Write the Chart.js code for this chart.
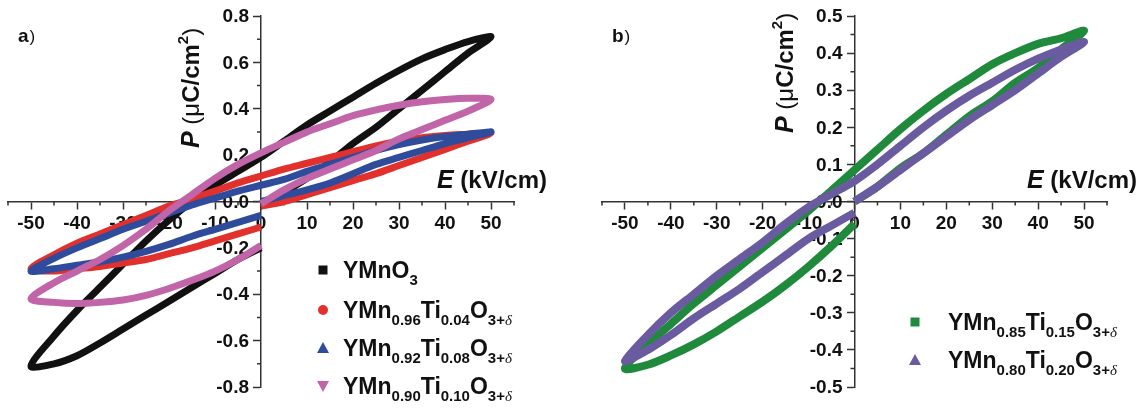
<!DOCTYPE html>
<html>
<head>
<meta charset="utf-8">
<script src="https://cdn.jsdelivr.net/npm/chart.js@4.4.1/dist/chart.umd.min.js"></script>
<style>
  html, body { margin: 0; padding: 0; background: #fff; }
  #wrap { position: relative; width: 1144px; height: 410px; overflow: hidden; }
  .panel { position: absolute; top: 0; height: 410px; }
  #pa { left: 0; width: 560px; }
  #pb { left: 572px; width: 572px; }
</style>
</head>
<body>
<div id="wrap">
  <div class="panel" id="pa"><canvas id="chartA" width="560" height="410"></canvas></div>
  <div class="panel" id="pb"><canvas id="chartB" width="572" height="410"></canvas></div>
</div>
<script>
const FONT = "'Liberation Sans', Arial, Helvetica, sans-serif";
const SERIF = "'Liberation Serif', 'DejaVu Serif', serif";
const AXIS_COLOR = '#333';

// field sweep: 0 -> +50 -> -50 -> 0 (kV/cm)
const E_PATH = [0, 5, 10, 15, 20, 25, 30, 35, 40, 45, 50,
  45, 40, 35, 30, 25, 20, 15, 10, 5, 0, -5, -10, -15, -20, -25, -30, -35, -40, -45, -50,
  -45, -40, -35, -30, -25, -20, -15, -10, -5, 0];

// panel a, P in uC/cm2 along E_PATH
const P_YMNO3 = [-0.01, 0.04, 0.10, 0.17, 0.25, 0.32, 0.40, 0.48, 0.56, 0.64, 0.71,
  0.69, 0.655, 0.615, 0.565, 0.51, 0.45, 0.39, 0.33, 0.26, 0.19, 0.13, 0.07, 0.0, -0.08, -0.17, -0.27, -0.37, -0.47, -0.58, -0.71,
  -0.70, -0.665, -0.61, -0.55, -0.49, -0.43, -0.37, -0.31, -0.25, -0.20];
const P_TI004 = [-0.02, 0.0, 0.03, 0.06, 0.09, 0.12, 0.155, 0.19, 0.225, 0.26, 0.295,
  0.29, 0.285, 0.275, 0.26, 0.24, 0.215, 0.19, 0.165, 0.14, 0.11, 0.08, 0.045, 0.01, -0.02, -0.06, -0.10, -0.14, -0.18, -0.23, -0.29,
  -0.30, -0.29, -0.28, -0.265, -0.25, -0.225, -0.20, -0.17, -0.14, -0.11];
const P_TI008 = [0.0, 0.025, 0.05, 0.08, 0.12, 0.16, 0.19, 0.22, 0.25, 0.275, 0.30,
  0.29, 0.28, 0.265, 0.245, 0.22, 0.19, 0.16, 0.13, 0.095, 0.07, 0.045, 0.015, -0.015, -0.05, -0.085, -0.12, -0.16, -0.20, -0.245, -0.30,
  -0.29, -0.275, -0.26, -0.24, -0.215, -0.185, -0.15, -0.12, -0.09, -0.06];
const P_TI010 = [-0.01, 0.05, 0.10, 0.14, 0.18, 0.22, 0.27, 0.31, 0.35, 0.39, 0.44,
  0.445, 0.44, 0.43, 0.415, 0.395, 0.37, 0.335, 0.30, 0.255, 0.21, 0.16, 0.10, 0.03, -0.04, -0.12, -0.19, -0.25, -0.30, -0.35, -0.42,
  -0.435, -0.44, -0.435, -0.425, -0.405, -0.375, -0.34, -0.30, -0.25, -0.19];

// panel b
const P_TI015 = [0.0, 0.04, 0.09, 0.13, 0.18, 0.23, 0.27, 0.32, 0.36, 0.41, 0.46,
  0.44, 0.425, 0.40, 0.37, 0.33, 0.29, 0.245, 0.195, 0.14, 0.085, 0.03, -0.025, -0.075, -0.125, -0.175, -0.225, -0.275, -0.33, -0.385, -0.45,
  -0.44, -0.415, -0.385, -0.35, -0.31, -0.27, -0.225, -0.175, -0.12, -0.06];
const P_TI020 = [0.0, 0.04, 0.085, 0.13, 0.175, 0.22, 0.26, 0.30, 0.345, 0.39, 0.43,
  0.41, 0.385, 0.355, 0.32, 0.285, 0.245, 0.20, 0.15, 0.10, 0.055, 0.02, -0.015, -0.06, -0.11, -0.155, -0.20, -0.25, -0.30, -0.36, -0.43,
  -0.40, -0.36, -0.315, -0.275, -0.235, -0.19, -0.145, -0.10, -0.065, -0.03];

const E_MAJOR = [-50, -40, -30, -20, -10, 0, 10, 20, 30, 40, 50];
const P_MAJOR_A = [-0.8, -0.6, -0.4, -0.2, 0, 0.2, 0.4, 0.6, 0.8];
const P_MAJOR_B = [-0.5, -0.4, -0.3, -0.2, -0.1, 0, 0.1, 0.2, 0.3, 0.4, 0.5];

const NAMES_A = ['YMnO_{3}', 'YMn_{0.96}Ti_{0.04}O_{3+δ}', 'YMn_{0.92}Ti_{0.08}O_{3+δ}', 'YMn_{0.90}Ti_{0.10}O_{3+δ}'];
const NAMES_B = ['YMn_{0.85}Ti_{0.15}O_{3+δ}', 'YMn_{0.80}Ti_{0.20}O_{3+δ}'];

const isIn = (list, v) => list.some(m => Math.abs(m - v) < 1e-6);
const pts = (P) => E_PATH.map((e, i) => ({ x: e, y: P[i] }));

// rich text: "_{..}" subscript, "^{..}" superscript
function drawRich(ctx, str, x, y, size) {
  const small = Math.round(size * 0.66);
  const re = /([_^])\{([^}]*)\}/g;
  const parts = [];
  let last = 0, m;
  while ((m = re.exec(str))) {
    if (m.index > last) parts.push({ t: str.slice(last, m.index), size, dy: 0 });
    const dy = m[1] === '_' ? Math.round(size * 0.3) : -Math.round(size * 0.45);
    m[2].split(/(δ)/).filter(Boolean).forEach(t => parts.push({ t, size: small, dy, greek: t === 'δ' }));
    last = re.lastIndex;
  }
  if (last < str.length) parts.push({ t: str.slice(last), size, dy: 0 });
  let cx = x;
  parts.forEach(p => {
    ctx.font = p.greek ? `italic ${p.size}px ${SERIF}` : `bold ${p.size}px ${FONT}`;
    ctx.fillText(p.t, cx, y + p.dy);
    cx += ctx.measureText(p.t).width;
  });
  return cx - x;
}

function drawMarker(ctx, shape, x, y, color) {
  ctx.fillStyle = color;
  ctx.beginPath();
  if (shape === 'rect') ctx.rect(x - 4.5, y - 4.5, 9, 9);
  else if (shape === 'circle') ctx.arc(x, y, 5, 0, Math.PI * 2);
  else if (shape === 'triangle') { ctx.moveTo(x, y - 6); ctx.lineTo(x + 6, y + 5); ctx.lineTo(x - 6, y + 5); ctx.closePath(); }
  else { ctx.moveTo(x, y + 6); ctx.lineTo(x + 6, y - 5); ctx.lineTo(x - 6, y - 5); ctx.closePath(); }
  ctx.fill();
}

const LAYOUT = {
  chartA: { tag: 'a', tagX: 18, yTitleDX: -62, yTitleY: 148, xTitleRight: 547, xTitleY: 188,
    legX: 323, legTextX: 343, legY: [278, 318, 356, 394] },
  chartB: { tag: 'b', tagX: 40, yTitleDX: -62, yTitleY: 133, xTitleRight: 565, xTitleY: 188,
    legX: 343, legTextX: 376, legY: [330, 368] }
};

const decor = {
  id: 'decor',
  beforeDatasetsDraw(chart) {
    const { ctx, scales: { x, y } } = chart;
    const x0 = x.getPixelForValue(0), y0 = y.getPixelForValue(0);
    ctx.save();
    // minor ticks
    ctx.strokeStyle = AXIS_COLOR;
    ctx.lineWidth = 1.5;
    ctx.beginPath();
    x.ticks.forEach(t => { if (!t.label) { const px = x.getPixelForValue(t.value); ctx.moveTo(px, y0); ctx.lineTo(px, y0 + 4); } });
    y.ticks.forEach(t => { if (!t.label) { const py = y.getPixelForValue(t.value); ctx.moveTo(x0, py); ctx.lineTo(x0 - 4, py); } });
    ctx.stroke();
    // y tick labels, left of the axis (under the loops)
    ctx.fillStyle = '#111';
    ctx.font = `bold 19px ${FONT}`;
    ctx.textAlign = 'right';
    ctx.textBaseline = 'middle';
    y.ticks.forEach(t => { if (t.label) ctx.fillText(t.label, x0 - 12, y.getPixelForValue(t.value) + 1); });
    ctx.restore();
  },
  afterDraw(chart) {
    const L = LAYOUT[chart.canvas.id];
    const { ctx, scales: { x } } = chart;
    const x0 = x.getPixelForValue(0);
    ctx.save();
    ctx.fillStyle = '#111';
    ctx.textBaseline = 'alphabetic';
    ctx.textAlign = 'left';
    // panel tag
    ctx.font = `bold 19px ${FONT}`;
    ctx.fillText(L.tag, L.tagX, 42);
    const w = ctx.measureText(L.tag).width;
    ctx.font = `17px ${FONT}`;
    ctx.fillText(')', L.tagX + w + 1, 42);
    // y title, rotated
    ctx.save();
    ctx.translate(x0 + L.yTitleDX, L.yTitleY);
    ctx.rotate(-Math.PI / 2);
    let cx = 0;
    const seg = (t, font, dy = 0) => { ctx.font = font; ctx.fillText(t, cx, dy); cx += ctx.measureText(t).width; };
    seg('P', `italic bold 25px ${FONT}`);
    seg(' (', `24px ${FONT}`);
    seg('μ', `24px ${FONT}`);
    seg('C/cm', `bold 24px ${FONT}`);
    seg('2', `bold 15px ${FONT}`, -11);
    seg(')', `24px ${FONT}`);
    ctx.restore();
    // x title, right aligned
    ctx.font = `bold 24px ${FONT}`;
    const w2 = ctx.measureText(' (kV/cm)').width;
    ctx.font = `italic bold 25px ${FONT}`;
    const w1 = ctx.measureText('E').width;
    const sx = L.xTitleRight - w1 - w2;
    ctx.fillText('E', sx, L.xTitleY);
    ctx.font = `bold 24px ${FONT}`;
    ctx.fillText(' (kV/cm)', sx + w1, L.xTitleY);
    // legend
    chart.data.datasets.forEach((ds, i) => {
      const by = L.legY[i];
      drawMarker(ctx, ds.marker, L.legX, by - 8, ds.borderColor);
      ctx.fillStyle = '#111';
      drawRich(ctx, ds.label, L.legTextX, by, 23);
    });
    ctx.restore();
  }
};

function makeChart(id, datasets, yMin, yMax, yStep, yMajor, padding) {
  const tickFont = { family: FONT, size: 19, weight: 'bold' };
  return new Chart(document.getElementById(id), {
    type: 'scatter',
    data: { datasets },
    options: {
      responsive: false,
      animation: false,
      events: [],
      layout: { padding },
      elements: { point: { radius: 0 }, line: { tension: 0.3, fill: false, borderJoinStyle: 'round' } },
      plugins: { legend: { display: false }, tooltip: { enabled: false } },
      scales: {
        x: {
          type: 'linear', min: -55, max: 55, position: { y: 0 },
          border: { display: true, color: AXIS_COLOR, width: 1.5 },
          grid: { drawOnChartArea: false, drawTicks: true, tickLength: 7, tickWidth: 1.5,
            tickColor: (c) => c.tick && isIn(E_MAJOR, c.tick.value) ? AXIS_COLOR : 'rgba(0,0,0,0)' },
          ticks: { stepSize: 5, autoSkip: false, maxRotation: 0, padding: 4, color: '#111', font: tickFont,
            callback: (v) => isIn(E_MAJOR, v) ? String(Math.round(v)) : '' }
        },
        y: {
          type: 'linear', min: yMin, max: yMax, position: { x: 0 },
          border: { display: true, color: AXIS_COLOR, width: 1.5 },
          grid: { drawOnChartArea: false, drawTicks: true, tickLength: 7, tickWidth: 1.5,
            tickColor: (c) => c.tick && isIn(yMajor, c.tick.value) ? AXIS_COLOR : 'rgba(0,0,0,0)' },
          ticks: { stepSize: yStep, autoSkip: false, padding: 4, color: 'rgba(0,0,0,0)', font: tickFont,
            callback: (v) => isIn(yMajor, v) ? (Math.abs(v) < 1e-9 ? 0 : v).toFixed(1) : '' }
        }
      }
    },
    plugins: [decor]
  });
}

const line = (label, P, color, marker, order, width) => ({
  label, data: pts(P), borderColor: color, backgroundColor: color, borderWidth: width,
  showLine: true, pointRadius: 0, marker, order
});

makeChart('chartA', [
  line(NAMES_A[0], P_YMNO3, '#111111', 'rect', 3, 7),
  line(NAMES_A[1], P_TI004, '#e2312d', 'circle', 2, 7),
  line(NAMES_A[2], P_TI008, '#2f4c9c', 'triangle', 1, 7),
  line(NAMES_A[3], P_TI010, '#c165a8', 'down', 0, 7)
], -0.8, 0.8, 0.1, P_MAJOR_A, { left: 8, right: 46, top: 16, bottom: 23 });

makeChart('chartB', [
  line(NAMES_B[0], P_TI015, '#1f8a3b', 'rect', 1, 8),
  line(NAMES_B[1], P_TI020, '#6a5ba0', 'triangle', 0, 8)
], -0.5, 0.5, 0.05, P_MAJOR_B, { left: 30, right: 37, top: 16, bottom: 23 });
</script>
</body>
</html>
